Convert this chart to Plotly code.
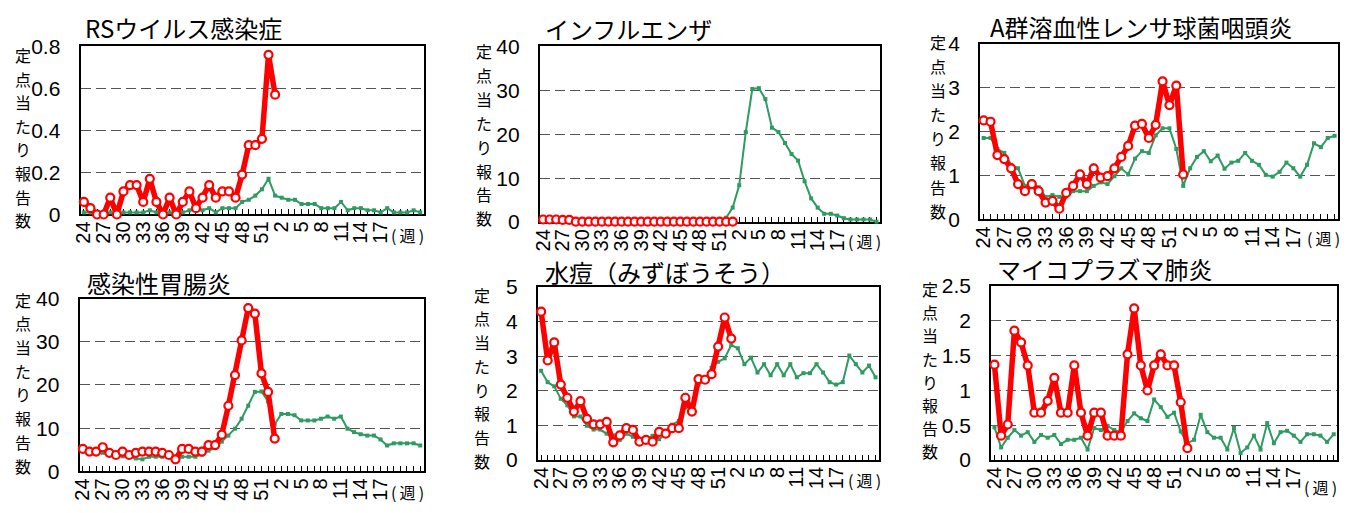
import plotly.graph_objects as go

# Week numbers on the category axis: week 24 through week 23 of the following year
WEEKS = list(range(24, 53)) + list(range(1, 24))
# Tick labels shown every third week; the last two slots are left for the "(週)" unit label
TICK_LABELS = [str(w) if (i % 3 == 0 and i <= 45) else "" for i, w in enumerate(WEEKS)]

TITLES = ["RSウイルス感染症", "インフルエンザ", "A群溶血性レンサ球菌咽頭炎",
          "感染性胃腸炎", "水痘（みずぼうそう）", "マイコプラズマ肺炎"]

# Current season (weeks 24 .. 1)
rs_this = [0.06, 0.03, 0.0, 0.0, 0.08, 0.0, 0.11, 0.14, 0.14, 0.06, 0.17, 0.06, 0.0, 0.08, 0.0,
           0.06, 0.11, 0.03, 0.08, 0.14, 0.08, 0.11, 0.11, 0.08, 0.19, 0.33, 0.33, 0.36, 0.76, 0.57]
flu_this = [0.6, 0.6, 0.6, 0.5, 0.5, 0.1, 0.1, 0.1, 0.1, 0.1, 0.1, 0.1, 0.1, 0.1, 0.1,
            0.1, 0.1, 0.1, 0.1, 0.1, 0.1, 0.1, 0.1, 0.1, 0.1, 0.1, 0.1, 0.1, 0.1, 0.1]
gas_this = [2.25, 2.22, 1.46, 1.37, 1.16, 0.80, 0.64, 0.80, 0.64, 0.38, 0.42, 0.24, 0.60, 0.76, 1.02,
            0.80, 1.16, 0.95, 0.98, 1.16, 1.42, 1.67, 2.13, 2.17, 1.85, 2.15, 3.14, 2.60, 3.04, 1.02]
gastro_this = [5.2, 4.6, 4.6, 5.6, 4.3, 3.8, 4.6, 3.8, 4.3, 4.6, 4.6, 4.6, 4.3, 3.8, 2.8,
               5.2, 5.2, 4.6, 4.6, 6.1, 6.1, 8.5, 15.2, 22.3, 30.3, 37.8, 36.5, 22.7, 18.4, 7.6]
vz_this = [4.29, 2.88, 3.40, 2.18, 1.80, 1.40, 1.70, 1.19, 1.03, 1.03, 1.10, 0.51, 0.71, 0.92, 0.87,
           0.53, 0.58, 0.53, 0.81, 0.76, 0.92, 0.92, 1.80, 1.40, 2.34, 2.32, 2.48, 3.28, 4.12, 3.51]
myco_this = [1.37, 0.35, 0.51, 1.86, 1.69, 1.36, 0.68, 0.68, 0.85, 1.18, 0.68, 0.68, 1.36, 0.68, 0.35,
             0.68, 0.68, 0.35, 0.35, 0.35, 1.52, 2.18, 1.36, 1.00, 1.36, 1.52, 1.36, 1.36, 0.83, 0.17]

# Previous season (weeks 24 .. 23)
rs_last = [0.01, 0.01, 0.01, 0.01, 0.01, 0.01, 0.01, 0.01, 0.01, 0.01, 0.02, 0.01, 0.01, 0.01, 0.01,
           0.01, 0.02, 0.02, 0.02, 0.03, 0.01, 0.03, 0.03, 0.03, 0.06, 0.07, 0.09, 0.12, 0.17, 0.09,
           0.08, 0.07, 0.07, 0.05, 0.05, 0.05, 0.03, 0.03, 0.03, 0.06, 0.02, 0.03, 0.03, 0.02, 0.02,
           0.01, 0.03, 0.01, 0.01, 0.01, 0.02, 0.01]
flu_last = [0.1, 0.1, 0.1, 0.1, 0.1, 0.0, 0.0, 0.0, 0.0, 0.0, 0.0, 0.0, 0.0, 0.0, 0.0,
            0.0, 0.0, 0.0, 0.0, 0.0, 0.0, 0.0, 0.0, 0.1, 0.1, 0.1, 0.2, 0.3, 1.0, 3.3,
            8.4, 20.5, 30.3, 30.5, 28.0, 21.5, 20.5, 18.0, 15.5, 14.0, 9.3, 5.4, 3.3, 1.9, 1.9,
            1.5, 0.9, 0.6, 0.6, 0.6, 0.6, 0.1]
gas_last = [1.85, 1.85, 1.60, 1.51, 1.24, 1.16, 0.76, 0.74, 0.73, 0.51, 0.55, 0.51, 0.52, 0.64, 0.64,
            0.64, 0.76, 0.84, 0.80, 0.98, 1.16, 1.02, 1.38, 1.55, 1.51, 1.91, 2.07, 2.07, 1.60, 0.76,
            1.16, 1.42, 1.55, 1.32, 1.45, 1.15, 1.29, 1.33, 1.51, 1.33, 1.24, 1.01, 0.97, 1.08, 1.29,
            1.16, 0.97, 1.24, 1.73, 1.64, 1.85, 1.90]
gastro_last = [5.0, 4.7, 4.5, 4.3, 4.0, 3.8, 3.5, 3.4, 3.0, 2.8, 3.4, 3.4, 3.4, 3.4, 2.8,
               3.4, 3.4, 3.4, 3.9, 4.8, 5.4, 6.9, 8.3, 9.9, 12.2, 15.2, 18.4, 18.5, 16.2, 10.9,
               13.3, 13.3, 13.0, 11.8, 11.8, 11.8, 12.2, 12.7, 12.2, 12.7, 9.9, 9.1, 8.6, 8.3, 8.3,
               7.4, 6.0, 6.5, 6.5, 6.5, 6.5, 6.0]
vz_last = [2.58, 2.25, 2.13, 1.77, 1.58, 1.26, 1.26, 0.99, 0.88, 0.88, 0.76, 0.71, 0.58, 0.76, 0.67,
           0.60, 0.60, 0.70, 0.60, 0.76, 1.02, 1.13, 1.52, 1.58, 2.18, 2.32, 2.66, 2.84, 2.94, 3.32,
           3.23, 2.77, 2.96, 2.53, 2.77, 2.45, 2.77, 2.45, 2.77, 2.39, 2.51, 2.51, 2.77, 2.53, 2.25,
           2.18, 2.25, 3.02, 2.77, 2.53, 2.73, 2.39]
myco_last = [0.47, 0.18, 0.32, 0.43, 0.35, 0.40, 0.26, 0.36, 0.32, 0.36, 0.23, 0.29, 0.29, 0.32, 0.15,
             0.46, 0.43, 0.49, 0.43, 0.40, 0.56, 0.67, 0.60, 0.56, 0.87, 0.76, 0.62, 0.68, 0.41, 0.24,
             0.29, 0.65, 0.40, 0.32, 0.32, 0.15, 0.46, 0.10, 0.18, 0.35, 0.15, 0.53, 0.24, 0.40, 0.42,
             0.35, 0.26, 0.37, 0.37, 0.35, 0.26, 0.37]

Y_MAX = [0.8, 40, 4, 40, 5, 2.5]
Y_STEP = [0.2, 10, 1, 10, 1, 0.5]

THIS = [rs_this, flu_this, gas_this, gastro_this, vz_this, myco_this]
LAST = [rs_last, flu_last, gas_last, gastro_last, vz_last, myco_last]

W, H = 1348, 513
# Plot boxes in pixels: left, right, top, bottom
BOXES = [(73, 418, 36, 212), (535, 877, 36, 220), (978, 1338, 33, 217),
         (72, 418, 300, 481), (533, 876, 288, 469), (989, 1337, 287, 469)]
# Title anchor (left x, centre y)
TITLE_POS = [(75, 16), (538, 17), (986, 15), (77, 283), (538, 272), (993, 269)]
# Vertical axis caption: x, first char y, last char y
YCAP_POS = [(15, 45, 218), (479, 41, 216), (936, 31, 208),
            (15, 301, 475), (477, 296, 470), (928, 290, 460)]
# "(週)" unit label centre
UNIT_POS = [(402, 233), (862, 240), (1323, 237), (402, 503), (862, 490), (1320, 497)]

JP = "Noto Sans CJK JP"
NUM = "Liberation Sans, Arial, sans-serif"
RED = "#FF0000"
GREEN = "#2E9B62"

fig = go.Figure()
layout = dict(
    width=W, height=H, margin=dict(l=0, r=0, t=0, b=0),
    paper_bgcolor="white", plot_bgcolor="white", showlegend=False,
)
annotations = []
x_idx = list(range(len(WEEKS)))

for k in range(6):
    xa = "x" if k == 0 else f"x{k + 1}"
    ya = "y" if k == 0 else f"y{k + 1}"
    xkey = "xaxis" if k == 0 else f"xaxis{k + 1}"
    ykey = "yaxis" if k == 0 else f"yaxis{k + 1}"
    l, r, t, b = BOXES[k]

    fig.add_trace(go.Scatter(
        x=x_idx, y=LAST[k], xaxis=xa, yaxis=ya, mode="lines+markers",
        line=dict(color=GREEN, width=2),
        marker=dict(symbol="square", size=4, color=GREEN),
        cliponaxis=False, hoverinfo="skip",
    ))
    fig.add_trace(go.Scatter(
        x=x_idx[:len(THIS[k])], y=THIS[k], xaxis=xa, yaxis=ya, mode="lines+markers",
        line=dict(color=RED, width=5.5),
        marker=dict(symbol="circle", size=8, color="white", line=dict(color=RED, width=2.2)),
        cliponaxis=False, hoverinfo="skip",
    ))

    layout[xkey] = dict(
        domain=[l / W, r / W], anchor=ya, range=[-0.5, len(WEEKS) - 0.5],
        tickmode="array", tickvals=x_idx, ticktext=TICK_LABELS, tickangle=-90,
        ticks="inside", ticklen=5, tickwidth=1, tickcolor="black", ticklabelstandoff=-3,
        tickfont=dict(family=NUM, size=20, color="black"),
        showline=True, mirror=True, linecolor="black", linewidth=2,
        showgrid=False, zeroline=False, layer="below traces", fixedrange=True,
    )
    layout[ykey] = dict(
        domain=[1 - b / H, 1 - t / H], anchor=xa, range=[0, Y_MAX[k]],
        tick0=0, dtick=Y_STEP[k], ticks="", ticklabelstandoff=14,
        tickfont=dict(family=NUM, size=21, color="black"),
        showline=True, mirror=True, linecolor="black", linewidth=2,
        showgrid=True, gridcolor="#555555", gridwidth=1.2, griddash="10px,5px",
        zeroline=False, layer="below traces", fixedrange=True,
    )

    tx, ty = TITLE_POS[k]
    annotations.append(dict(
        text=TITLES[k], xref="paper", yref="paper", x=tx / W, y=1 - ty / H,
        xanchor="left", yanchor="middle", showarrow=False,
        font=dict(family=JP, size=24, color="black"),
    ))

    cx, y0, y1 = YCAP_POS[k]
    caption = "定点当たり報告数"
    for j, ch in enumerate(caption):
        cy = y0 + (y1 - y0) * j / (len(caption) - 1)
        annotations.append(dict(
            text=ch, xref="paper", yref="paper", x=cx / W, y=1 - cy / H,
            xanchor="center", yanchor="middle", showarrow=False,
            font=dict(family=JP, size=16, color="black"),
        ))

    ux, uy = UNIT_POS[k]
    annotations.append(dict(
        text="(\u2009週\u2009)", xref="paper", yref="paper", x=ux / W, y=1 - uy / H,
        xanchor="center", yanchor="middle", showarrow=False,
        font=dict(family=JP, size=16, color="black"),
    ))

layout["annotations"] = annotations
fig.update_layout(**layout)
fig.write_html("out.html")
